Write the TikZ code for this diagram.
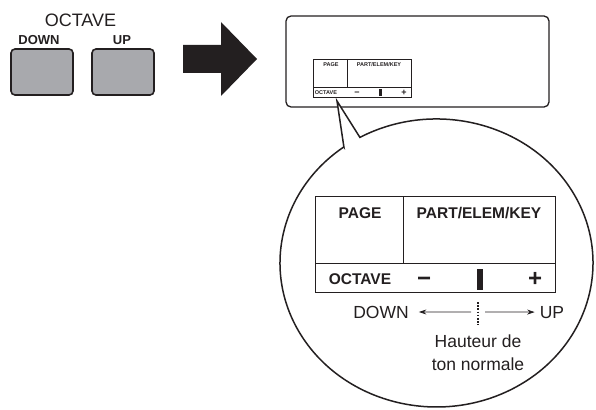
\documentclass[tikz,border=0pt]{standalone}
\usepackage{fontspec}
\setmainfont{Liberation Sans}
\usetikzlibrary{arrows.meta}
\definecolor{keygray}{RGB}{168,169,173}
\definecolor{ink}{RGB}{35,31,32}

\begin{document}
\begin{tikzpicture}[x=1pt,y=-1pt,ink,
  btn/.style={draw,line width=1.6pt,rounded corners=4pt,fill=keygray,minimum width=62pt,minimum height=46pt},
  lbl/.style={inner sep=0pt,anchor=base},
  big/.style={lbl,font=\fontsize{15.5}{18}\selectfont\bfseries},
  tiny/.style={lbl,font=\fontsize{5.5}{6}\selectfont\bfseries},
  sign/.style={lbl,font=\fontsize{24}{26}\selectfont\bfseries},
  note/.style={lbl,font=\fontsize{17.5}{21}\selectfont},
  tick/.style={-{Stealth[length=7.5pt,width=5pt]},line width=0.7pt}]
\useasboundingbox (0,0) rectangle (596,409);
% buttons
\node[lbl,font=\fontsize{18}{20}\selectfont] (octlbl) at (80.5,27) {OCTAVE};
\node[lbl,font=\fontsize{13}{15}\selectfont\bfseries] (downlbl) at (39,45) {DOWN};
\node[lbl,font=\fontsize{13}{15}\selectfont\bfseries] (uplbl) at (122,45) {UP};
\node[btn] (kdown) at (42,72) {}; \node[btn] (kup) at (123,72) {};
\fill (183,45) -- (221,45) -- (221,22) -- (257,59) -- (221,96) -- (221,73) -- (183,73) -- cycle;
% lcd and small display
\node[draw,line width=1.3pt,rounded corners=5pt,minimum width=263pt,minimum height=91pt] (lcd) at (417.5,61.5) {};
\draw[line width=0.8pt] (313,59) rectangle (411,97) (347,59) -- (347,87) (313,87) -- (411,87);
\node[tiny] (spage) at (331,67) {PAGE}; \node[tiny] (spart) at (379,67) {PART/ELEM/KEY};
\node[tiny] (soct) at (326,95) {OCTAVE};
\node[lbl,font=\fontsize{9}{10}\selectfont\bfseries] (sminus) at (357,95.5) {−};
\node[lbl,font=\fontsize{9}{10}\selectfont\bfseries] (splus) at (404,95.5) {+};
\fill (379,89.5) rectangle (382,96);
% callout
\coordinate (tip) at (337,101);
\draw[line width=1.5pt,fill=white] (343.9,147) -- (tip) -- (359.9,137.4)
  arc[start angle=119.3,end angle=-233.7,x radius=156.5pt,y radius=144pt] -- cycle;
% large display
\draw[line width=1pt] (315,196) rectangle (555,292) (403,196) -- (403,263) (315,263) -- (555,263);
\node[big] (page) at (360,218) {PAGE}; \node[big] (part) at (479,218) {PART/ELEM/KEY};
\node[big] (oct) at (360,284) {OCTAVE};
\node[sign] (minus) at (424,286) {−}; \node[sign] (plus) at (535,286) {+};
\fill (477,269) rectangle (483,290);
% pitch note
\node[note] (down) at (381,318) {DOWN}; \node[note] (up) at (552,318) {UP};
\coordinate (dtop) at (478,302); \coordinate (dbot) at (478,325); \coordinate (dmid) at (478,312);
\draw[line width=1.3pt,dash pattern=on 1.6pt off 1.6pt] (dtop) -- (dbot);
\draw[tick] ([xshift=-7pt]dmid) -- ([xshift=10pt]down.east);
\draw[tick] ([xshift=7pt]dmid) -- ([xshift=-5pt]up.west);
\node[note] (haut) at (478,347) {Hauteur de}; \node[note] (ton) at (478,370) {ton normale};
\end{tikzpicture}
\end{document}
